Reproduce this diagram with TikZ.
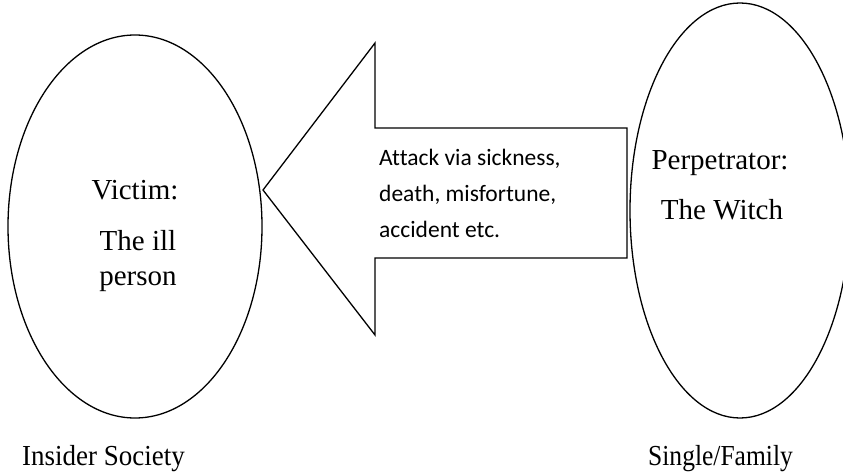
\documentclass[tikz,border=0pt]{standalone}
\usepackage{fontspec}
\setmainfont{Liberation Serif}
\newfontfamily\calfont[Ligatures=NoCommon]{Carlito}
\usetikzlibrary{shapes.geometric}

\tikzset{
  outline/.style={draw=black, line width=1.3pt},
  oval/.style={outline, ellipse, inner sep=0pt},
  serifline/.style={inner sep=0pt, anchor=base, font=\fontsize{29}{34}\selectfont},
  arrowline/.style={inner sep=0pt, anchor=base west, font=\calfont\fontsize{23.5}{36}\selectfont},
  caption/.style={inner sep=0pt, anchor=base west, font=\fontsize{29}{34}\selectfont}
}

\begin{document}
\begin{tikzpicture}[x=1pt, y=-1pt]
  \useasboundingbox (0,0) rectangle (843,476);
  \clip (0,0) rectangle (843,476);

  % the two parties
  \node[oval, minimum width=254pt, minimum height=383pt] (victim) at (135,226.5) {};
  \node[oval, minimum width=220pt, minimum height=415pt] (witch) at (740,210.5) {};

  % block arrow pointing from the witch to the victim
  \coordinate (tip) at (263,190);
  \coordinate (tail) at (627,190);
  \draw[outline, line join=miter]
    (tip) -- (375,43) -- (375,128) -- (tail |- 0,128) -- (tail |- 0,258)
    -- (375,258) -- (375,335) -- cycle;

  \node[arrowline] (a1) at (379,165) {Attack via sickness,};
  \node[arrowline] (a2) at (379,201) {death, misfortune,};
  \node[arrowline] (a3) at (379,237) {accident etc.};

  % labels inside the ovals
  \node[serifline] (v1) at (135,199) {Victim:};
  \node[serifline] (v2) at (138,250) {The ill};
  \node[serifline] (v3) at (138,285) {person};

  \node[serifline] (p1) at (720,169) {Perpetrator:};
  \node[serifline] (p2) at (722,219) {The Witch};

  % captions below
  \node[caption] (c1) at (22,465) {\scalebox{0.93}[1]{Insider Society}};
  \node[caption] (c2) at (648,465) {\scalebox{0.88}[1]{Single/Family}};
\end{tikzpicture}
\end{document}
